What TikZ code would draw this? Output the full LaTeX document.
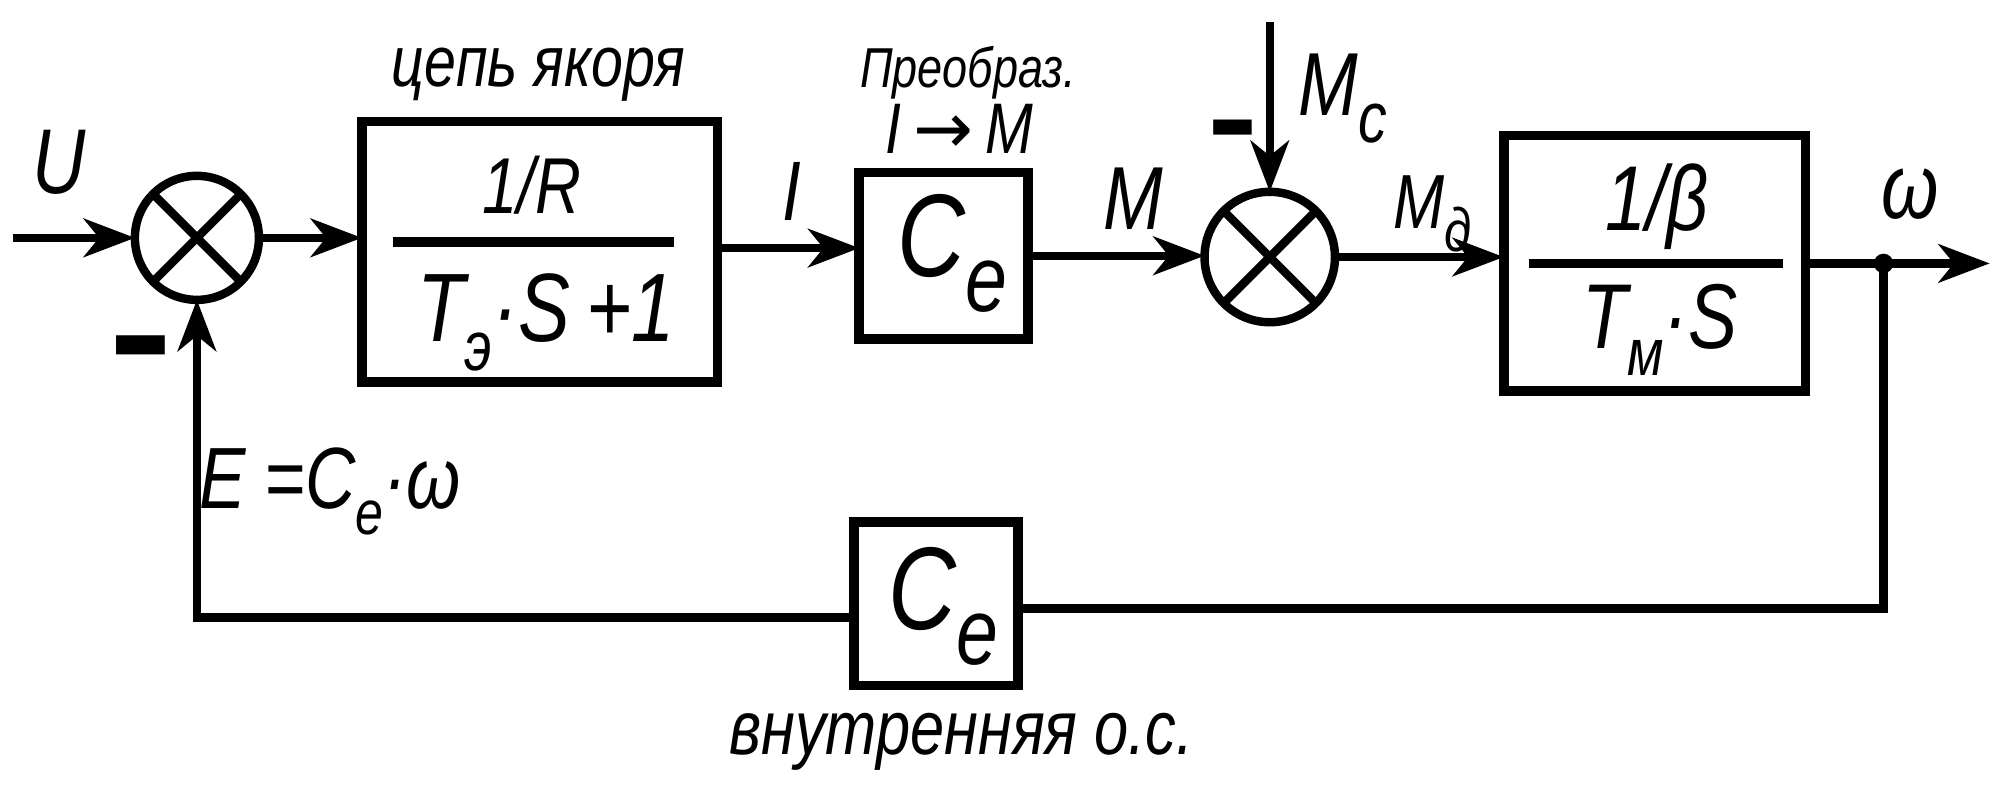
\documentclass[tikz,border=0pt]{standalone}
\usepackage{fontspec}
\newfontfamily\hand{Liberation Sans}[FakeStretch=0.8]
\newfontfamily\djv{DejaVu Sans}
\usetikzlibrary{arrows.meta}
\newcommand\lsub[2][0.72]{\raisebox{-0.3em}{\scalebox{#1}{#2}}}
\newcommand\hf[1]{\hand\itshape\fontsize{#1}{#1}\selectfont}
\newcommand\mns{\scalebox{1.25}[1.8]{−}}
\tikzset{
  ln/.style={line width=3.3pt},
  arr/.style={ln, -{Stealth[length=20pt,width=15pt,inset=6pt]}},
  blk/.style={draw, line width=3.8pt, inner sep=0pt, outer sep=0pt},
  sum/.style={draw, circle, line width=3.3pt, inner sep=0pt, outer sep=0pt},
  lbl/.style={inner sep=0pt, outer sep=0pt},
}
\begin{document}
\begin{tikzpicture}[x=0.5pt,y=-0.5pt]
\useasboundingbox (0,0) rectangle (1568,634);
% blocks
\node[sum, minimum size=48.5pt] (s1) at (154,186) {};
\draw[ln] (s1.45) -- (s1.225) (s1.135) -- (s1.315);
\node[blk, minimum width=139pt, minimum height=102pt] (b1) at (422,197) {};
\node[blk, minimum width=66pt, minimum height=65pt] (b2) at (738,200) {};
\node[sum, minimum size=51pt] (s2) at (993,201) {};
\draw[ln] (s2.45) -- (s2.225) (s2.135) -- (s2.315);
\node[blk, minimum width=118pt, minimum height=100pt] (b3) at (1294,206) {};
\node[blk, minimum width=64pt, minimum height=64pt] (b4) at (732,472) {};
% coordinates
\coordinate (in) at (10,186);
\coordinate (mc) at (993,17);
\coordinate (br) at (1473,206);
\coordinate (out) at (1556,206);
\coordinate (yI) at (0,194);
% connectors
\draw[arr] (in) -- (s1.west);
\draw[arr] (s1.east) -- (s1.east -| b1.west);
\draw[arr] (b1.east |- yI) -- (b2.west |- yI);
\draw[arr] (b2.east) -- (b2.east -| s2.west);
\draw[arr] (s2.east) -- (s2.east -| b3.west);
\draw[arr] (mc) -- (s2.north);
\draw[ln] (b3.east |- br) -- (br);
\draw[arr] (br) -- (out);
\fill (br) circle (3.8pt);
\draw[ln] (br) |- ([yshift=-2pt]b4.east);
\draw[arr] ([yshift=-5.5pt]b4.west) -| (s1.south);
% fraction bars
\draw[line width=3.8pt] (307,189) -- (527,189);
\draw[line width=3.8pt] (1196,206) -- (1394,206);
% labels
\node[lbl, font=\hf{36}] (lU) at (46,127) {U};
\node[lbl, font=\hand\bfseries\fontsize{38}{38}\selectfont] (m1) at (110,289) {\mns};
\node[lbl, font=\hf{28}] (la) at (421,58) {цепь якоря};
\node[lbl, font=\hf{31}] (n1) at (416,145) {1/R};
\node[lbl, font=\hf{38}] (d1) at (427,252) {T\lsub{э}·S\,+1};
\node[lbl, font=\hf{33}] (lI) at (619,150) {I};
\node[lbl, font=\hf{22}] (lp) at (757,57) {Преобраз.};
\node[lbl, font=\hf{28}] (lim) at (750,101) {I\,{\djv\upshape →}\,M};
\node[lbl, font=\hf{46}] (c2) at (745,198) {C\lsub[0.8]{e}};
\node[lbl, font=\hf{35}] (lM) at (886,155) {M};
\node[lbl, font=\hf{35}] (lMc) at (1050,77) {M\lsub[0.8]{c}};
\node[lbl, font=\hand\bfseries\fontsize{30}{30}\selectfont] (m2) at (964,115) {\mns};
\node[lbl, font=\hf{30}] (lMd) at (1120,167) {M\lsub[0.8]{д}};
\node[lbl, font=\hf{36}] (n3) at (1296,162) {1/β};
\node[lbl, font=\hf{36}] (d3) at (1298,258) {T\lsub{м}·S};
\node[lbl, font=\hf{36}] (lw) at (1494,152) {ω};
\node[lbl, font=\hf{34}] (lE) at (258,384) {E =C\lsub{e}·ω};
\node[lbl, font=\hf{46}] (c4) at (738,474) {C\lsub[0.8]{e}};
\node[lbl, font=\hf{30}] (lv) at (752,580) {внутренняя о.с.};
\end{tikzpicture}
\end{document}
